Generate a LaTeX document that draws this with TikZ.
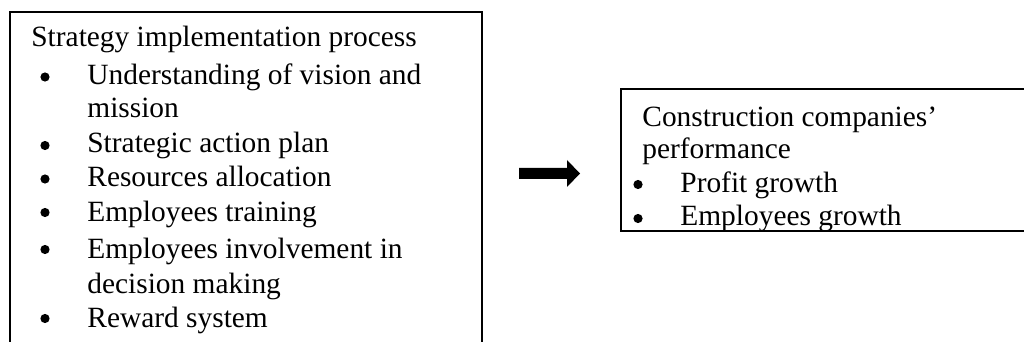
\documentclass[tikz,border=0pt]{standalone}
\usepackage{fontspec}
\setmainfont{Liberation Serif}
\begin{document}
\begin{tikzpicture}[x=0.5pt,y=-0.5pt,
  txt/.style={anchor=base west,inner sep=0pt,font=\fontsize{14.7}{17}\selectfont},
  dot/.style={circle,fill=black,inner sep=0pt,minimum size=4.6pt},
  frame/.style={draw=black,line width=1.25pt}]
\useasboundingbox (0,0) rectangle (1024,342);
\clip (0,0) rectangle (1024,342);

% frames of the two text boxes
\draw[frame] (10,12) rectangle (482,400);
\draw[frame] (1040,89) -- (621,89) -- (621,231) -- (1040,231);

% left box: implementation factors
\node[txt] (t0) at (31,47) {Strategy implementation process};
\node[dot] (b1) at (45,77) {};
\node[txt] (t1) at (87,85) {Understanding of vision and};
\node[txt] (t1b) at (87,118) {mission};
\node[dot] (b2) at (45,145.5) {};
\node[txt] (t2) at (87,153) {Strategic action plan};
\node[dot] (b3) at (45,179) {};
\node[txt] (t3) at (87,187) {Resources allocation};
\node[dot] (b4) at (45,212.5) {};
\node[txt] (t4) at (87,221) {Employees training};
\node[dot] (b5) at (45,249.5) {};
\node[txt] (t5) at (87,258) {Employees involvement in};
\node[txt] (t5b) at (87,293) {decision making};
\node[dot] (b6) at (45,318.5) {};
\node[txt] (t6) at (87,328) {Reward system};

% right box: performance measures
\node[txt] (r0) at (642,127) {Construction companies’};
\node[txt] (r0b) at (642,159) {performance};
\node[dot] (rb1) at (638,184.5) {};
\node[txt] (r1) at (680,192) {Profit growth};
\node[dot] (rb2) at (638,218.5) {};
\node[txt] (r2) at (680,226) {Employees growth};

% block arrow between the boxes
\coordinate (atail) at (519,173.5);
\coordinate (atip) at (580,173.5);
\fill[black] (atail) ++(0,-5.5) -- ++(48,0) -- ++(0,-8) -- (atip)
  -- ++(-13,13.5) -- ++(0,-8) -- ++(-48,0) -- cycle;
\end{tikzpicture}
\end{document}
